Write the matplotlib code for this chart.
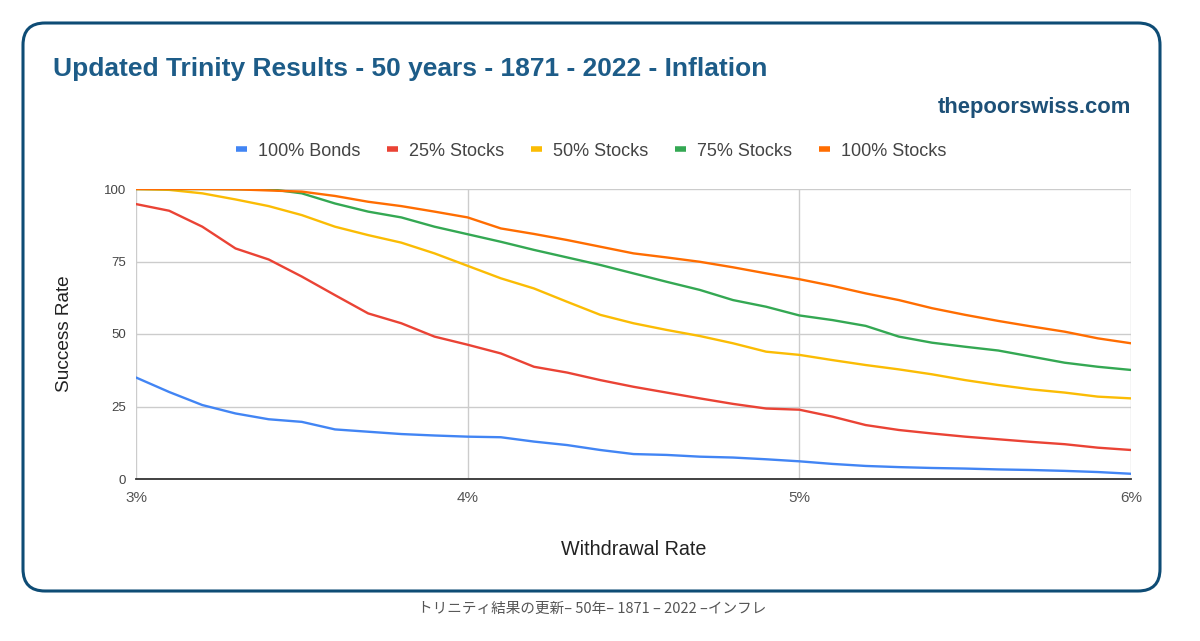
import matplotlib
matplotlib.use("Agg")
import matplotlib.pyplot as plt
from matplotlib.patches import FancyBboxPatch
from matplotlib.lines import Line2D

plt.rcParams['font.family'] = ['Liberation Sans', 'DejaVu Sans']

rates = [3.0, 3.1, 3.2, 3.3, 3.4, 3.5, 3.6, 3.7, 3.8, 3.9, 4.0,
         4.1, 4.2, 4.3, 4.4, 4.5, 4.6, 4.7, 4.8, 4.9, 5.0,
         5.1, 5.2, 5.3, 5.4, 5.5, 5.6, 5.7, 5.8, 5.9, 6.0]

bonds_100 = [35.0, 30.0, 25.5, 22.6, 20.6, 19.7, 17.1, 16.3, 15.5, 15.0, 14.6,
             14.4, 12.9, 11.7, 10.0, 8.6, 8.3, 7.7, 7.4, 6.8, 6.1,
             5.2, 4.5, 4.1, 3.8, 3.6, 3.3, 3.1, 2.8, 2.4, 1.8]
stocks_25 = [94.8, 92.5, 87.0, 79.5, 75.7, 69.8, 63.4, 57.1, 53.7, 49.1, 46.3,
             43.3, 38.7, 36.7, 34.1, 31.8, 29.8, 27.8, 25.9, 24.3, 23.9,
             21.5, 18.6, 16.9, 15.7, 14.6, 13.7, 12.8, 12.0, 10.8, 10.0]
stocks_50 = [100.0, 99.7, 98.5, 96.4, 94.1, 91.0, 87.0, 84.1, 81.5, 77.8, 73.5,
             69.2, 65.7, 61.1, 56.6, 53.7, 51.4, 49.3, 46.8, 43.9, 42.8,
             41.0, 39.3, 37.8, 36.1, 34.1, 32.4, 30.9, 29.8, 28.4, 27.8]
stocks_75 = [100.0, 100.0, 100.0, 99.9, 100.0, 98.5, 95.0, 92.2, 90.2, 87.0, 84.4,
             81.8, 79.0, 76.4, 73.8, 70.9, 68.0, 65.2, 61.7, 59.4, 56.4,
             54.8, 52.8, 49.1, 47.0, 45.6, 44.3, 42.2, 40.1, 38.7, 37.6]
stocks_100 = [100.0, 100.0, 100.0, 99.9, 99.5, 99.1, 97.6, 95.6, 94.1, 92.2, 90.2,
              86.4, 84.5, 82.4, 80.1, 77.8, 76.4, 74.9, 73.0, 70.9, 68.9,
              66.6, 64.0, 61.7, 58.9, 56.6, 54.5, 52.6, 50.8, 48.5, 46.8]

series_names = ['100% Bonds', '25% Stocks', '50% Stocks', '75% Stocks', '100% Stocks']
series_values = [bonds_100, stocks_25, stocks_50, stocks_75, stocks_100]
colors = ['#4285F4', '#EA4335', '#FBBC04', '#34A853', '#FF6D01']

x_ticks = [3, 4, 5, 6]
x_tick_labels = ['3%', '4%', '5%', '6%']
y_ticks = [0, 25, 50, 75, 100]

W, H = 1200, 641
fig = plt.figure(figsize=(W / 100, H / 100), dpi=100)

# background + rounded border
bg = fig.add_axes([0, 0, 1, 1], zorder=-1)
bg.set_xlim(0, W)
bg.set_ylim(H, 0)
bg.axis('off')
box = FancyBboxPatch((23, 23), 1137, 568, boxstyle="round,pad=0,rounding_size=22",
                     facecolor='white', edgecolor='#0e4c75', linewidth=2.2)
bg.add_patch(box)

fig.text(53 / W, 1 - 69 / H, 'Updated Trinity Results - 50 years - 1871 - 2022 - Inflation',
         fontsize=19, fontweight='bold', color='#1d5c88', ha='left', va='center')
fig.text(1131 / W, 1 - 107 / H, 'thepoorswiss.com', fontsize=15.8, fontweight='bold',
         color='#1d5077', ha='right', va='center')

left, right, top, bottom = 136, 1131, 189, 479
ax = fig.add_axes([left / W, 1 - bottom / H, (right - left) / W, (bottom - top) / H])

for name, vals, c in zip(series_names, series_values, colors):
    ax.plot(rates, vals, color=c, linewidth=1.7, label=name,
            solid_capstyle='round', solid_joinstyle='round')

ax.set_xlim(3, 6)
ax.set_ylim(0, 100)
ax.set_xticks(x_ticks)
ax.set_xticklabels(x_tick_labels)
ax.set_yticks(y_ticks)
ax.grid(True, color='#cccccc', linewidth=1)
ax.set_axisbelow(True)
for s in ['top', 'right', 'left']:
    ax.spines[s].set_visible(False)
ax.spines['bottom'].set_color('#333333')
ax.spines['bottom'].set_linewidth(1.3)
ax.spines['bottom'].set_zorder(5)
ax.tick_params(axis='both', length=0)
ax.tick_params(axis='y', labelsize=9.5, labelcolor='#444444', pad=7)
ax.tick_params(axis='x', labelsize=11, labelcolor='#555555', pad=9)
for lbl in ax.get_xticklabels():
    lbl.set_ha('center')

ax.set_xlabel('Withdrawal Rate', fontsize=14.2, color='#222222', labelpad=25)
ax.set_ylabel('Success Rate', fontsize=13.7, color='#222222', labelpad=22)

handles = [Line2D([0], [0], color=c, linewidth=4, solid_capstyle='butt') for c in colors]
fig.legend(handles, series_names, loc='center', bbox_to_anchor=(591 / W, 1 - 151 / H),
           ncol=5, frameon=False, fontsize=13, handlelength=0.6, handletextpad=0.6,
           columnspacing=1.5, labelcolor='#444444')

fig.text(592 / W, 1 - 609 / H, 'トリニティ結果の更新– 50年– 1871 – 2022 –インフレ',
         family=['Noto Sans CJK JP', 'DejaVu Sans'], style='italic', fontsize=10.5,
         color='#555555', ha='center', va='center')

fig.savefig('out.png', dpi=100)
